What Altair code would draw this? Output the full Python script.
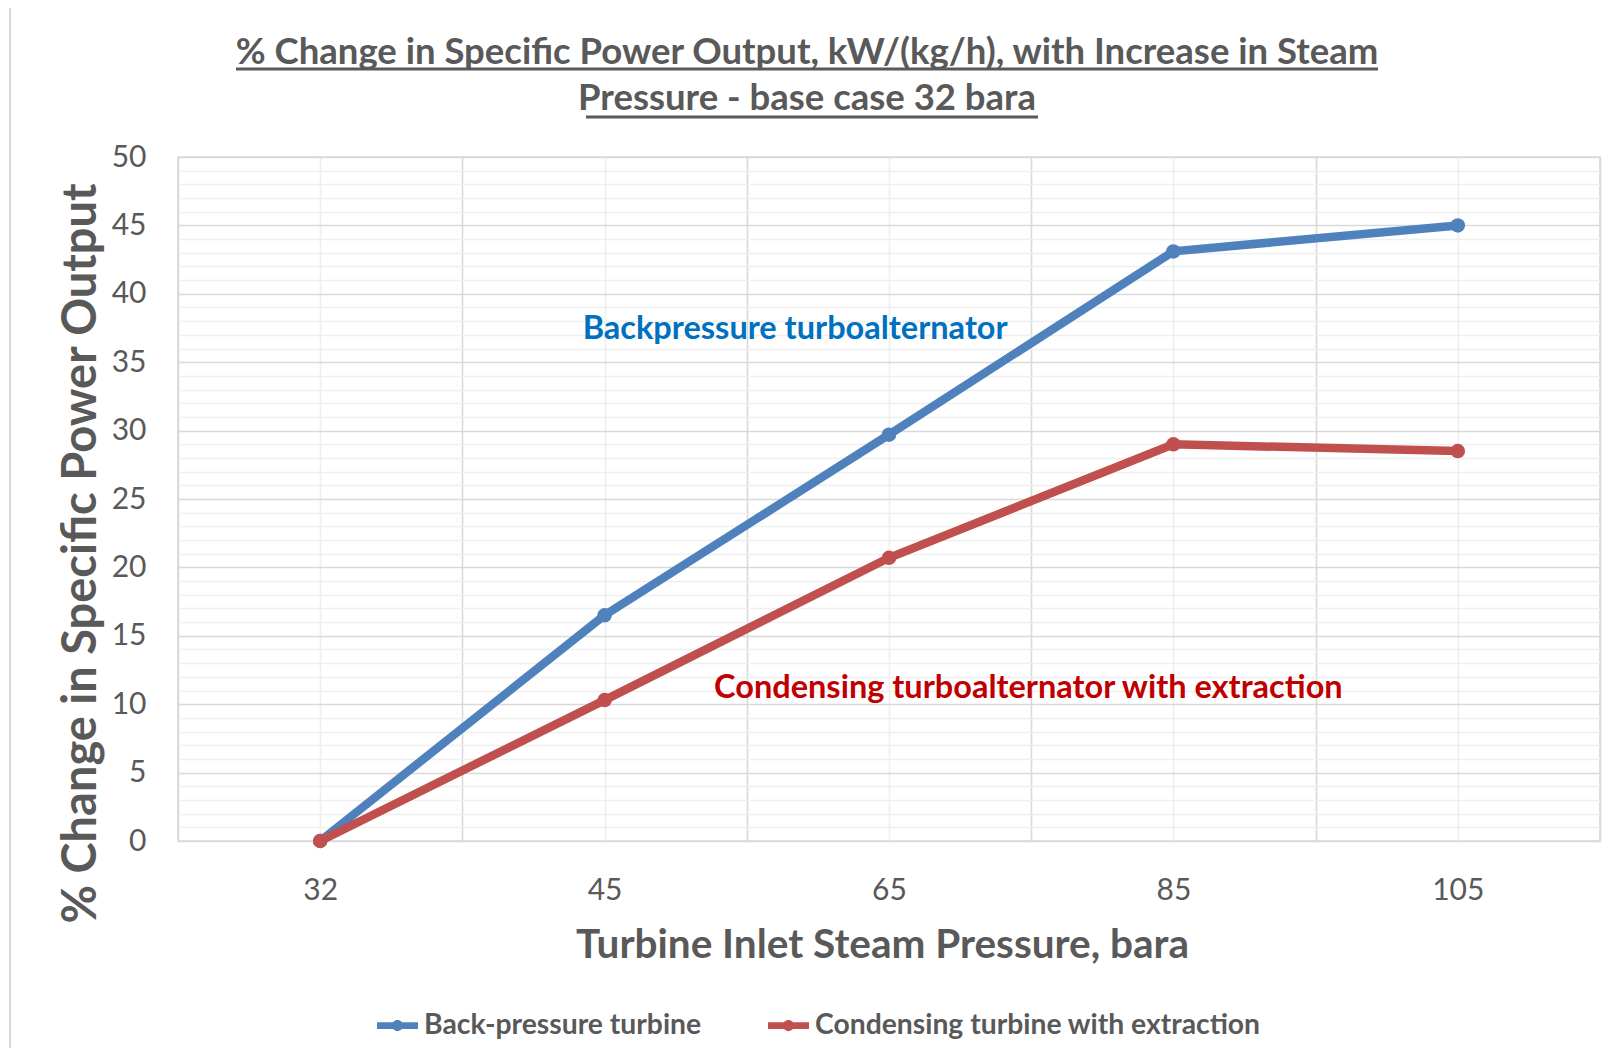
import json
import altair as alt
import pandas as pd

# ---------------- data ----------------
categories = ["32", "45", "65", "85", "105"]
back_pressure = [0.0, 16.5, 29.7, 43.1, 45.0]
condensing = [0.0, 10.3, 20.7, 29.0, 28.5]
series_names = ["Back-pressure turbine", "Condensing turbine with extraction"]
series_colors = ["#4F81BD", "#C0504D"]

title_lines = [
    "% Change in Specific Power Output, kW/(kg/h), with Increase in Steam",
    "Pressure - base case 32 bara",
]
y_title = "% Change in Specific Power Output"
x_title = "Turbine Inlet Steam Pressure, bara"

annotations = ["Backpressure turboalternator", "Condensing turboalternator with extraction"]
annotation_x = [1.67, 2.49]
annotation_y = [37.4, 11.2]
annotation_colors = ["#0070C0", "#C00000"]

y_ticks = list(range(0, 51))
x_ticks = [i / 2 - 0.5 for i in range(11)]

FONT = "Lato"
TEXT = "#595959"
MAJOR = "#d9d9d9"
MINOR = "#efefef"
W, H = 1422, 684

rows = []
for name, vals in zip(series_names, [back_pressure, condensing]):
    for i, (c, v) in enumerate(zip(categories, vals)):
        rows.append({"series": name, "idx": i, "pressure": c, "value": v})
df = pd.DataFrame(rows)

ann_df = pd.DataFrame({"label": annotations, "idx": annotation_x, "value": annotation_y, "c": annotation_colors})

x_enc = alt.X(
    "idx:Q",
    scale=alt.Scale(domain=[-0.5, 4.5], nice=False, zero=False),
    axis=alt.Axis(
        values=x_ticks,
        labelExpr=f"datum.value % 1 === 0 ? {json.dumps(categories)}[datum.value] : ''",
        labelFont=FONT, labelFontSize=30, labelColor=TEXT, labelPadding=34,
        labelOverlap=False, ticks=False, tickSize=0, domain=False,
        grid=True,
        gridColor={"condition": {"test": "datum.value % 1 !== 0", "value": MAJOR}, "value": MINOR},
        gridWidth=1.6,
        title=x_title, titleFont=FONT, titleFontSize=40.5, titleFontWeight="bold",
        titleColor=TEXT, titleX=704, titleY=104, titleAlign="center", titleBaseline="middle",
    ),
)
y_enc = alt.Y(
    "value:Q",
    scale=alt.Scale(domain=[0, 50], nice=False),
    axis=alt.Axis(
        values=y_ticks,
        tickCount=51,
        labelExpr="datum.value % 5 === 0 ? datum.label : ''",
        labelFont=FONT, labelFontSize=30, labelColor=TEXT, labelPadding=32,
        labelOverlap=False, ticks=False, tickSize=0, domain=False,
        grid=True,
        gridColor={"condition": {"test": "datum.value % 5 === 0", "value": MAJOR}, "value": MINOR},
        gridWidth=1.6,
        title=y_title, titleFont=FONT, titleFontSize=47, titleFontWeight="bold",
        titleColor=TEXT, titleX=-97, titleY=396, titleAngle=270,
        titleAlign="center", titleBaseline="middle",
    ),
)

color_scale = alt.Scale(domain=series_names, range=series_colors)

SYMBOL = ("M-1,-0.16L1,-0.16L1,0.16L-1,0.16Z "
          "M-0.27,0A0.27,0.27 0 1,1 0.27,0A0.27,0.27 0 1,1 -0.27,0Z")

lines = alt.Chart(df).mark_line(strokeWidth=8.5).encode(
    x=x_enc, y=y_enc,
    color=alt.Color("series:N", scale=color_scale, legend=None),
    order="idx:Q",
)
points = alt.Chart(df).mark_circle(size=210, opacity=1).encode(
    x=x_enc, y=y_enc,
    fill=alt.Fill(
        "series:N", scale=color_scale,
        legend=alt.Legend(
            orient="none", legendX=199, legendY=848, direction="horizontal",
            title=None, symbolType=SYMBOL, symbolSize=1681, symbolStrokeWidth=0,
            symbolOpacity=1,
            labelFont=FONT, labelFontSize=28.3, labelFontWeight="bold", labelColor=TEXT,
            labelOffset=6, labelLimit=0, columnPadding=66,
        ),
    ),
)

ann = alt.Chart(ann_df).mark_text(font=FONT, fontSize=32.5, fontWeight="bold", align="center", baseline="middle").encode(
    x=x_enc, y=y_enc, text="label:N",
    color=alt.Color("c:N", scale=None),
)

one = pd.DataFrame({"k": [0]})
title1 = alt.Chart(one).mark_text(font=FONT, fontSize=36.5, fontWeight="bold", color=TEXT, align="center", baseline="middle").encode(
    x=alt.value(629), y=alt.value(-104), text=alt.value(title_lines[0]))
title2 = alt.Chart(one).mark_text(font=FONT, fontSize=36.5, fontWeight="bold", color=TEXT, align="center", baseline="middle").encode(
    x=alt.value(629), y=alt.value(-58), text=alt.value(title_lines[1]))
ul1 = alt.Chart(one).mark_rule(color=TEXT, strokeWidth=3).encode(
    x=alt.value(58), x2=alt.value(1200), y=alt.value(-88))
ul2 = alt.Chart(one).mark_rule(color=TEXT, strokeWidth=3).encode(
    x=alt.value(408), x2=alt.value(860), y=alt.value(-40))
border_top = alt.Chart(one).mark_rule(color=MAJOR, strokeWidth=2).encode(
    x=alt.value(-168), x2=alt.value(W + 20), y=alt.value(-151))
border_left = alt.Chart(one).mark_rule(color=MAJOR, strokeWidth=2).encode(
    x=alt.value(-168), y=alt.value(-151), y2=alt.value(H + 220))

chart = alt.layer(
    border_top, border_left, lines, points, ann, title1, title2, ul1, ul2
).resolve_scale(color="independent").properties(
    width=W, height=H,
    autosize=alt.AutoSizeParams(type="none"),
    padding={"left": 170, "top": 149, "right": 10, "bottom": 207},
    background="white",
).configure_view(stroke=MAJOR, strokeWidth=1.6)

chart.save("out.html", embed_options={"renderer": "svg", "actions": False})
